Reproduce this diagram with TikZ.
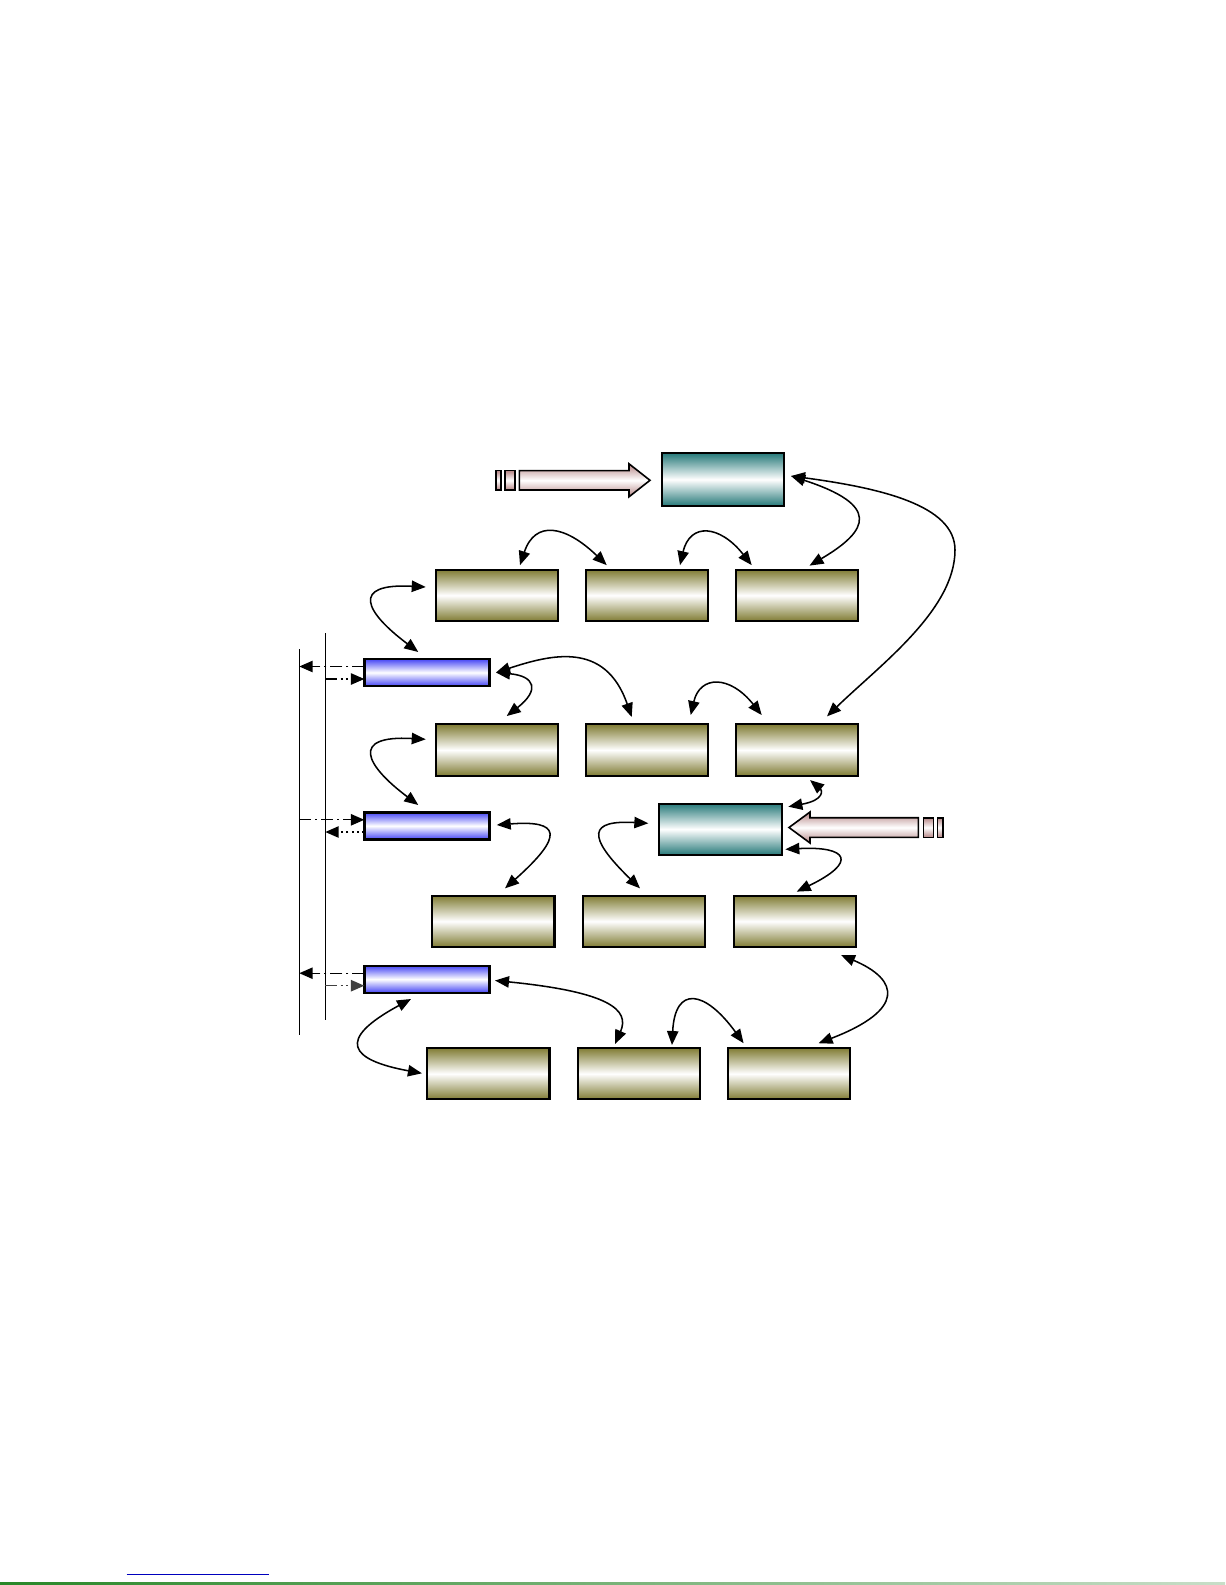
\documentclass[tikz,border=0pt]{standalone}
\usetikzlibrary{arrows.meta,calc}
\definecolor{oliveC}{RGB}{128,124,52}
\definecolor{tealC}{RGB}{40,122,122}
\definecolor{blueC}{RGB}{70,70,245}
\definecolor{pinkC}{RGB}{180,132,132}
\definecolor{linkblue}{RGB}{0,0,190}
\definecolor{footA}{RGB}{40,135,40}
\definecolor{footB}{RGB}{200,222,200}
\tikzset{
  box/.style={draw=black, rectangle, inner sep=0pt, outer sep=0pt},
  obox/.style={box, line width=1.6pt, top color=oliveC, bottom color=oliveC, middle color=white, minimum width=91.9pt, minimum height=38.5pt},
  tbox/.style={box, line width=1.6pt, top color=tealC, bottom color=tealC, middle color=white},
  bbox/.style={box, line width=1.8pt, top color=blueC, bottom color=blueC, middle color=white, minimum width=93.75pt, minimum height=20.25pt},
  conn/.style={line width=1.15pt, {Triangle[length=10.5pt,width=8.5pt]}-{Triangle[length=10.5pt,width=8.5pt]}},
  tipr/.style={-{Triangle[length=10pt,width=8.5pt]}},
  dashdot/.style={line width=1pt, dash pattern=on 9pt off 3pt on 1.5pt off 3pt},
  dashdotdot/.style={line width=1pt, dash pattern=on 9pt off 2.5pt on 1.5pt off 2.5pt on 1.5pt off 2.5pt},
  dotline/.style={line width=1pt, dash pattern=on 1.5pt off 2.5pt},
  vline/.style={line width=0.8pt},
  pinkarrow/.style={draw=black, line width=1.2pt, top color=pinkC, bottom color=pinkC, middle color=white, line join=miter},
}
\begin{document}
\begin{tikzpicture}[x=0.75pt,y=-0.75pt]
\fill[white] (0,0) rectangle (1225,1585);
\path[use as bounding box] (0,0) rectangle (1225,1585);

% boxes
\node[tbox, minimum width=91.7pt, minimum height=39.3pt] (T1) at (722.9,479.5) {};
\node[obox] (a1) at (497,595.3) {};
\node[obox] (a2) at (647,595.3) {};
\node[obox] (a3) at (797,595.3) {};
\node[bbox] (B1) at (426.8,672.5) {};
\node[obox] (b1) at (497,750) {};
\node[obox] (b2) at (647,750) {};
\node[obox] (b3) at (797,750) {};
\node[bbox] (B2) at (426.8,825.8) {};
\node[tbox, minimum width=92.5pt, minimum height=38.3pt] (T2) at (720.7,829.2) {};
\node[obox] (c1) at (493.2,921.3) {};
\node[obox] (c2) at (644,921.3) {};
\node[obox] (c3) at (795,921.3) {};
\node[bbox] (B3) at (426.8,979.2) {};
\node[obox] (d1) at (488.2,1073.7) {};
\node[obox] (d2) at (639,1073.7) {};
\node[obox] (d3) at (789,1073.7) {};

% pink block arrows
\shade[pinkarrow] (495.7,470.6) rectangle (500.7,490);
\shade[pinkarrow] (505,470.6) rectangle (515,490);
\shade[pinkarrow] (519.3,470.6) -- (629,470.6) -- (629,463.8) -- (650,480.3) -- (629,496.8) -- (629,490) -- (519.3,490) -- cycle;
\shade[pinkarrow] (937.3,817.7) rectangle (943,837.3);
\shade[pinkarrow] (923.3,817.7) rectangle (933.3,837.3);
\shade[pinkarrow] (918.3,817.7) -- (810,817.7) -- (810,812) -- (789,827.5) -- (810,843) -- (810,837.3) -- (918.3,837.3) -- cycle;

% curved connectors
\draw[conn] ($(T1.east)+(7,-3.5)$) .. controls (880,505) and (870,530) .. ($(a3.north)+(12.5,-4)$);
\draw[conn] ($(T1.east)+(7,-3.5)$) .. controls (880,488) and (955,505) .. (955,550) .. controls (955,610) and (880,665) .. ($(b3.north)+(30,-8)$);
\draw[conn] ($(a1.north)+(23,-4.5)$) .. controls (535,520) and (565,525) .. ($(a2.north)+(-40.3,-4.5)$);
\draw[conn] ($(a2.north)+(33,-4.5)$) .. controls (690,522) and (720,525) .. ($(a3.north)+(-45.3,-4.5)$);
\draw[conn] ($(a1.west)+(-10,-8.3)$) .. controls (350,583) and (365,612) .. ($(B1.north)+(-8.5,-7)$);
\draw[conn] ($(B1.east)+(6.7,0)$) .. controls (550,655) and (605,640) .. ($(b2.north)+(-15.3,-7.3)$);
\draw[conn] ($(B1.east)+(6.7,0)$) .. controls (535,676) and (540,690) .. ($(b1.north)+(9.7,-8.3)$);
\draw[conn] ($(b2.north)+(43.7,-9.3)$) .. controls (700,675) and (730,675) .. ($(b3.north)+(-35.3,-9.3)$);
\draw[conn] ($(b1.west)+(-10,-10.7)$) .. controls (350,735) and (365,765) .. ($(B2.north)+(-8.5,-7.3)$);
\draw[conn] ($(B2.east)+(7.4,-0.8)$) .. controls (560,820) and (565,835) .. ($(c1.north)+(11.8,-7.3)$);
\draw[conn] ($(T2.west)+(-10.7,-5.9)$) .. controls (590,820) and (585,835) .. ($(c2.north)+(-4,-7.3)$);
\draw[conn] ($(b3.south)+(13,4.4)$) .. controls (822,790) and (825,800) .. ($(T2.east)+(6,-22.5)$);
\draw[conn] ($(T2.east)+(3,20.1)$) .. controls (848,846) and (858,862) .. ($(c3.north)+(1.7,-4)$);
\draw[conn] ($(c3.south)+(46,8)$) .. controls (900,980) and (905,1010) .. ($(d3.north)+(29.6,-4.8)$);
\draw[conn] ($(B3.east)+(5.7,1.3)$) .. controls (610,992) and (630,1010) .. ($(d2.north)+(-24,-4)$);
\draw[conn] ($(d2.north)+(33,-3)$) .. controls (675,985) and (705,990) .. ($(d3.north)+(-45.4,-4.8)$);
\draw[conn] ($(B3.south)+(-15.8,6.3)$) .. controls (335,1040) and (350,1060) .. ($(d1.west)+(-5,-0.4)$);

% left bus lines
\coordinate (LA1) at (299.3,649.3);
\coordinate (LA2) at (299.3,1035);
\coordinate (LB1) at (325.3,633.3);
\coordinate (LB2) at (325.3,1020);
\draw[vline] (LA1) -- (LA2);
\draw[vline] (LB1) -- (LB2);

\coordinate (B1u) at ($(B1.west)+(0,-6)$);
\coordinate (B1d) at ($(B1.west)+(0,6.5)$);
\coordinate (B2u) at ($(B2.west)+(0,-6)$);
\coordinate (B2d) at ($(B2.west)+(0,6.2)$);
\coordinate (B3u) at ($(B3.west)+(0,-6)$);
\coordinate (B3d) at ($(B3.west)+(0,6.5)$);
\draw[dashdot,tipr] (B1u) -- (B1u -| LA1);
\draw[dashdotdot,tipr] (B1d -| LB1) -- (B1d);
\draw[dashdot,tipr] (B2u -| LA1) -- (B2u);
\draw[dotline,tipr] (B2d) -- (B2d -| LB1);
\draw[dashdot,tipr] (B3u) -- (B3u -| LA1);
\draw[dashdotdot,tipr,black!75] (B3d -| LB1) -- (B3d);

% page footer rules
\draw[linkblue, line width=0.8pt] (126.7,1574.7) -- (269,1574.7);
\shade[left color=footA, right color=footB] (0,1582.3) rectangle (1225,1585);
\end{tikzpicture}
\end{document}
